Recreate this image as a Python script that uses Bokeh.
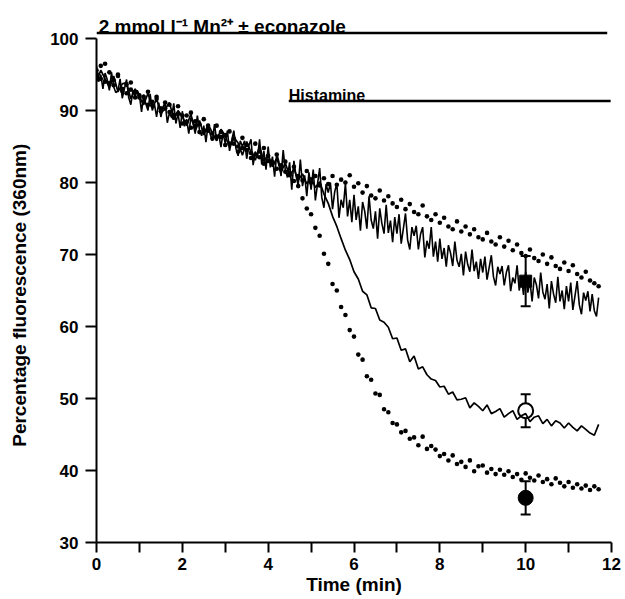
from bokeh.plotting import figure
from bokeh.models import Range1d, FixedTicker, Label, Whisker, TeeHead, ColumnDataSource
from bokeh.embed import file_html
from bokeh.resources import INLINE

# ---------------- data ----------------
# sampling of the dotted and histamine traces (min)
time_min = [
    0.0, 0.1, 0.2, 0.3, 0.4, 0.5, 0.6, 0.7, 0.8, 0.9,
    1.0, 1.1, 1.2, 1.3, 1.4, 1.5, 1.6, 1.7, 1.8, 1.9,
    2.0, 2.1, 2.2, 2.3, 2.4, 2.5, 2.6, 2.7, 2.8, 2.9,
    3.0, 3.1, 3.2, 3.3, 3.4, 3.5, 3.6, 3.7, 3.8, 3.9,
    4.0, 4.1, 4.2, 4.3, 4.4, 4.5, 4.6, 4.7, 4.8, 4.9,
    5.0, 5.1, 5.2, 5.3, 5.4, 5.5, 5.6, 5.7, 5.8, 5.9,
    6.0, 6.1, 6.2, 6.3, 6.4, 6.5, 6.6, 6.7, 6.8, 6.9,
    7.0, 7.1, 7.2, 7.3, 7.4, 7.5, 7.6, 7.7, 7.8, 7.9,
    8.0, 8.1, 8.2, 8.3, 8.4, 8.5, 8.6, 8.7, 8.8, 8.9,
    9.0, 9.1, 9.2, 9.3, 9.4, 9.5, 9.6, 9.7, 9.8, 9.9,
    10.0, 10.1, 10.2, 10.3, 10.4, 10.5, 10.6, 10.7, 10.8, 10.9,
    11.0, 11.1, 11.2, 11.3, 11.4, 11.5, 11.6, 11.7,
]

# finer sampling of the noisy Mn2+ alone trace (min)
time_fine = [
    0.00, 0.05, 0.10, 0.15, 0.20, 0.25, 0.30, 0.35, 0.40, 0.45,
    0.50, 0.55, 0.60, 0.65, 0.70, 0.75, 0.80, 0.85, 0.90, 0.95,
    1.00, 1.05, 1.10, 1.15, 1.20, 1.25, 1.30, 1.35, 1.40, 1.45,
    1.50, 1.55, 1.60, 1.65, 1.70, 1.75, 1.80, 1.85, 1.90, 1.95,
    2.00, 2.05, 2.10, 2.15, 2.20, 2.25, 2.30, 2.35, 2.40, 2.45,
    2.50, 2.55, 2.60, 2.65, 2.70, 2.75, 2.80, 2.85, 2.90, 2.95,
    3.00, 3.05, 3.10, 3.15, 3.20, 3.25, 3.30, 3.35, 3.40, 3.45,
    3.50, 3.55, 3.60, 3.65, 3.70, 3.75, 3.80, 3.85, 3.90, 3.95,
    4.00, 4.05, 4.10, 4.15, 4.20, 4.25, 4.30, 4.35, 4.40, 4.45,
    4.50, 4.55, 4.60, 4.65, 4.70, 4.75, 4.80, 4.85, 4.90, 4.95,
    5.00, 5.05, 5.10, 5.15, 5.20, 5.25, 5.30, 5.35, 5.40, 5.45,
    5.50, 5.55, 5.60, 5.65, 5.70, 5.75, 5.80, 5.85, 5.90, 5.95,
    6.00, 6.05, 6.10, 6.15, 6.20, 6.25, 6.30, 6.35, 6.40, 6.45,
    6.50, 6.55, 6.60, 6.65, 6.70, 6.75, 6.80, 6.85, 6.90, 6.95,
    7.00, 7.05, 7.10, 7.15, 7.20, 7.25, 7.30, 7.35, 7.40, 7.45,
    7.50, 7.55, 7.60, 7.65, 7.70, 7.75, 7.80, 7.85, 7.90, 7.95,
    8.00, 8.05, 8.10, 8.15, 8.20, 8.25, 8.30, 8.35, 8.40, 8.45,
    8.50, 8.55, 8.60, 8.65, 8.70, 8.75, 8.80, 8.85, 8.90, 8.95,
    9.00, 9.05, 9.10, 9.15, 9.20, 9.25, 9.30, 9.35, 9.40, 9.45,
    9.50, 9.55, 9.60, 9.65, 9.70, 9.75, 9.80, 9.85, 9.90, 9.95,
    10.00, 10.05, 10.10, 10.15, 10.20, 10.25, 10.30, 10.35, 10.40, 10.45,
    10.50, 10.55, 10.60, 10.65, 10.70, 10.75, 10.80, 10.85, 10.90, 10.95,
    11.00, 11.05, 11.10, 11.15, 11.20, 11.25, 11.30, 11.35, 11.40, 11.45,
    11.50, 11.55, 11.60, 11.65, 11.70,
]

# Mn2+ alone (solid, upper, noisy)
mn_solid = [
    96.2, 94.0, 95.0, 93.0, 95.2, 94.3, 92.8, 95.3, 93.3, 92.5,
    92.7, 94.4, 91.7, 93.0, 94.3, 91.8, 90.8, 92.8, 91.9, 92.8,
    92.1, 89.8, 92.2, 90.9, 90.0, 92.3, 90.0, 90.9, 89.1, 91.1,
    89.1, 90.5, 91.1, 88.3, 89.7, 89.0, 91.0, 88.2, 89.6, 87.6,
    89.9, 87.8, 88.8, 86.8, 89.0, 88.2, 86.8, 89.3, 87.3, 86.5,
    87.9, 85.6, 88.0, 86.7, 85.8, 88.1, 85.8, 86.7, 84.9, 86.9,
    85.4, 87.2, 84.4, 85.8, 87.2, 84.7, 83.7, 85.8, 85.0, 85.8,
    83.3, 85.1, 86.0, 82.4, 84.3, 83.4, 86.0, 82.5, 84.4, 81.8,
    85.0, 82.1, 83.6, 80.8, 84.0, 82.9, 80.9, 84.5, 81.7, 80.7,
    82.8, 79.0, 83.0, 80.9, 79.6, 83.2, 79.5, 81.0, 78.1, 81.4,
    79.0, 81.8, 77.5, 79.8, 82.0, 77.9, 76.5, 79.8, 78.6, 80.0,
    76.3, 78.7, 79.9, 75.1, 77.6, 76.5, 79.9, 75.3, 77.6, 74.5,
    78.3, 74.8, 76.7, 73.3, 77.3, 76.0, 73.6, 78.1, 74.8, 73.6,
    76.0, 72.2, 76.4, 74.3, 72.9, 76.9, 73.0, 74.7, 71.7, 75.2,
    72.9, 75.6, 71.5, 73.6, 75.7, 72.0, 70.7, 73.8, 72.6, 74.0,
    70.7, 72.8, 73.8, 69.6, 71.9, 70.8, 73.8, 69.7, 71.8, 69.0,
    72.2, 69.4, 70.9, 68.3, 71.3, 70.2, 68.4, 71.8, 69.2, 68.3,
    70.1, 67.1, 70.4, 68.6, 67.6, 70.7, 67.7, 69.0, 66.6, 69.4,
    67.5, 69.7, 66.5, 68.2, 69.9, 66.9, 65.7, 68.3, 67.3, 68.4,
    65.7, 67.5, 68.5, 64.9, 66.8, 66.0, 68.5, 65.0, 66.9, 64.4,
    67.6, 64.7, 66.3, 63.5, 66.8, 65.8, 63.9, 67.5, 64.8, 63.8,
    65.9, 62.5, 66.3, 64.5, 63.3, 66.9, 63.5, 65.0, 62.4, 65.6,
    63.5, 66.1, 62.3, 64.3, 66.3, 63.0, 61.7, 64.7, 63.6, 64.9,
    62.1, 64.5, 62.2, 61.4, 64.0,
]

# Mn2+ + econazole (dotted, upper)
mn_dotted = [
    95.1, 96.2, 94.0, 95.3, 93.5, 94.8, 93.0, 92.4, 93.9, 92.6,
    91.8, 91.2, 92.6, 90.7, 91.9, 90.3, 91.1, 89.8, 89.4, 90.6,
    89.3, 88.4, 89.7, 87.9, 88.1, 88.8, 87.2, 86.8, 87.9, 86.3,
    86.6, 87.1, 85.4, 85.0, 86.2, 84.5, 84.1, 85.4, 83.5, 84.8,
    83.7, 82.6, 83.9, 81.8, 82.9, 81.3, 82.2, 80.9, 80.3, 81.6,
    80.0, 80.9, 79.6, 80.6, 79.8, 80.9, 79.7, 80.4, 80.0, 81.0,
    79.4, 79.9, 78.6, 79.5, 78.2, 77.8, 78.9, 77.5, 78.1, 77.1,
    76.6, 77.6, 76.3, 77.0, 75.9, 75.6, 76.8, 75.3, 74.8, 75.6,
    74.4, 75.1, 73.9, 73.5, 74.6, 73.2, 73.9, 72.8, 73.5, 72.4,
    72.1, 73.0, 71.8, 71.4, 72.4, 71.1, 71.9, 70.6, 71.4, 70.2,
    69.8, 70.7, 69.5, 69.1, 70.0, 68.7, 69.6, 68.4, 68.0, 68.9,
    67.7, 68.5, 67.3, 66.8, 67.6, 66.4, 66.0, 65.6,
]

# Histamine (solid, middle)
hist_solid = [
    94.0, 95.6, 94.4, 93.2, 94.8, 92.6, 93.7, 93.9, 91.6, 93.0,
    91.9, 90.8, 92.4, 90.3, 91.6, 89.7, 90.2, 91.1, 88.8, 90.0,
    89.2, 87.9, 89.5, 87.2, 88.6, 86.6, 88.1, 86.9, 85.8, 87.4,
    86.5, 84.9, 86.3, 85.5, 83.8, 85.7, 84.2, 83.1, 85.0, 82.9,
    83.9, 82.2, 83.4, 81.5, 82.7, 80.9, 81.9, 80.3, 81.2, 79.8,
    80.7, 79.3, 80.1, 78.4, 77.1, 75.3, 73.9, 72.2, 70.6, 69.3,
    67.6, 66.6, 64.9, 64.4, 62.6, 62.5, 60.9, 60.6, 59.9, 58.3,
    58.4, 56.7, 56.9, 55.1, 55.9, 54.1, 54.4, 53.3, 52.7, 52.5,
    51.6, 51.7, 50.6, 50.9, 49.8, 49.9, 50.1, 48.7, 49.4, 48.9,
    48.3, 49.1, 47.9, 48.2, 48.6, 47.4, 47.9, 48.3, 47.1, 47.6,
    47.9, 46.8, 47.4, 47.6, 46.5, 47.1, 46.2, 46.9, 46.6, 45.9,
    46.6, 46.0, 45.5, 46.2, 45.7, 45.2, 44.9, 46.4,
]

# Histamine + econazole (dotted, lower)
hist_dotted = [
    95.6, 94.4, 96.5, 93.8, 94.2, 95.0, 92.7, 93.6, 92.9, 91.8,
    92.1, 91.9, 90.8, 91.2, 91.6, 89.9, 90.3, 90.8, 89.0, 89.5,
    88.2, 89.3, 87.6, 88.5, 87.0, 87.2, 87.9, 86.1, 86.4, 87.0,
    85.2, 85.4, 86.1, 84.3, 84.8, 85.2, 83.4, 83.9, 84.3, 82.6,
    83.0, 82.8, 81.9, 82.4, 81.5, 81.0, 80.2, 79.5, 77.8, 76.4,
    75.6, 73.7, 72.6, 70.1, 68.7, 65.9, 65.0, 62.7, 61.6, 59.5,
    58.6, 56.1, 55.4, 53.1, 52.6, 50.7, 50.5, 48.5, 48.1, 46.6,
    46.4, 45.3, 45.5, 44.4, 44.6, 43.5, 44.7, 43.0, 43.4, 42.9,
    42.0, 42.3, 41.4, 42.1, 40.9, 41.2, 40.5, 41.4, 39.9, 40.6,
    40.7, 39.7, 40.2, 39.5, 40.1, 39.4, 39.9, 39.1, 39.5, 38.7,
    39.6, 39.0, 38.6, 39.3, 38.4, 38.8, 38.1, 38.9, 38.3, 37.8,
    38.4, 37.6, 38.1, 37.5, 37.9, 37.3, 37.8, 37.4,
]

# mean +/- s.e.m. at 10 min
marker_time = [10.0, 10.0, 10.0]
marker_mean = [66.3, 48.3, 36.2]
marker_err = [3.5, 2.3, 2.3]

# application bars
mn_bar_x = [0.0, 11.9]
mn_bar_y = [100.76, 100.76]
hist_bar_x = [4.48, 11.98]
hist_bar_y = [91.32, 91.32]

x_ticks = [0, 2, 4, 6, 8, 10, 12]
x_minor_ticks = [1, 3, 5, 7, 9, 11]
y_ticks = [30, 40, 50, 60, 70, 80, 90, 100]

FONT = "Liberation Sans"

# ---------------- figure ----------------
p = figure(width=622, height=599, output_backend="svg", toolbar_location=None,
           title=None, x_range=Range1d(0, 12), y_range=Range1d(30, 105.28),
           min_border_left=96, min_border_right=11, min_border_top=0,
           min_border_bottom=57)
p.outline_line_color = None
p.xgrid.grid_line_color = None
p.ygrid.grid_line_color = None
p.background_fill_color = "white"
p.border_fill_color = "white"

for ax in (p.xaxis[0], p.yaxis[0]):
    ax.axis_line_width = 2
    ax.major_tick_line_width = 2
    ax.minor_tick_line_width = 2
    ax.major_tick_in = 0
    ax.minor_tick_in = 0
    ax.major_label_text_font = FONT
    ax.major_label_text_font_style = "bold"
    ax.major_label_text_font_size = "17px"
    ax.major_label_text_color = "black"
    ax.axis_line_color = "black"
    ax.major_tick_line_color = "black"
    ax.minor_tick_line_color = "black"
    ax.axis_label_text_font = FONT
    ax.axis_label_text_font_style = "bold"
    ax.axis_label_text_color = "black"

p.xaxis.ticker = FixedTicker(ticks=x_ticks, minor_ticks=x_minor_ticks)
p.xaxis.major_tick_out = 10
p.xaxis.minor_tick_out = 10
p.xaxis.major_label_standoff = 5
p.xaxis.bounds = (0, 12)
p.xaxis.axis_label = "Time (min)"
p.xaxis.axis_label_text_font_size = "19px"
p.xaxis.axis_label_standoff = 1

p.yaxis.ticker = FixedTicker(ticks=y_ticks, minor_ticks=[])
p.yaxis.major_tick_out = 11
p.yaxis.minor_tick_out = 0
p.yaxis.major_label_standoff = 7
p.yaxis.bounds = (30, 100)
# trailing no-break spaces centre the visible words on the 30-100 axis span
p.yaxis.axis_label = "Percentage fluorescence (360nm)" + "\u00a0" * 9
p.yaxis.axis_label_text_font_size = "19px"
p.yaxis.axis_label_standoff = 17

# error bars
err_src = ColumnDataSource(dict(
    x=marker_time,
    lower=[m - e for m, e in zip(marker_mean, marker_err)],
    upper=[m + e for m, e in zip(marker_mean, marker_err)],
))
p.add_layout(Whisker(source=err_src, base="x", lower="lower", upper="upper",
                     dimension="height", line_width=2, line_color="black",
                     lower_head=TeeHead(size=10, line_width=2, line_color="black"),
                     upper_head=TeeHead(size=10, line_width=2, line_color="black")))

# markers at 10 min
p.scatter([marker_time[0]], [marker_mean[0]], marker="square", size=12,
          fill_color="black", line_color="black")
p.scatter([marker_time[1]], [marker_mean[1]], marker="circle", size=15,
          fill_color="white", line_color="black", line_width=2)
p.scatter([marker_time[2]], [marker_mean[2]], marker="circle", size=15,
          fill_color="black", line_color="black")

# traces
p.line(time_fine, mn_solid, line_color="black", line_width=1.6)
p.line(time_min, hist_solid, line_color="black", line_width=1.7)
p.scatter(time_min, mn_dotted, marker="circle", size=4.6,
          fill_color="black", line_color=None)
p.scatter(time_min, hist_dotted, marker="circle", size=4.6,
          fill_color="black", line_color=None)

# application bars
p.line(mn_bar_x, mn_bar_y, line_color="black", line_width=2.5)
p.line(hist_bar_x, hist_bar_y, line_color="black", line_width=2.5)

p.add_layout(Label(x=0.05, y=101.64, text="2 mmol l\u207b\u00b9 Mn\u00b2\u207a \u00b1 econazole",
                   text_font=FONT, text_font_style="bold", text_font_size="19px",
                   text_align="left", text_baseline="alphabetic", text_color="black"))
p.add_layout(Label(x=4.48, y=92.15, text="Histamine",
                   text_font=FONT, text_font_style="bold", text_font_size="16px",
                   text_align="left", text_baseline="alphabetic", text_color="black"))

open("out.html", "w").write(file_html(p, INLINE))
